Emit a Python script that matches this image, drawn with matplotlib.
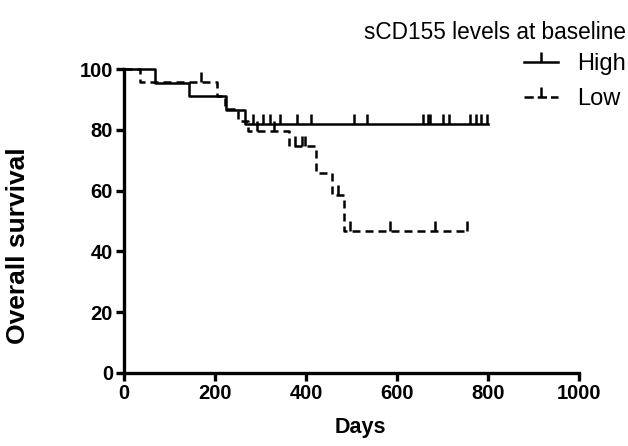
import numpy as np
import matplotlib.pyplot as plt
from matplotlib.lines import Line2D
from matplotlib.legend_handler import HandlerLine2D

plt.rcParams['font.family'] = ['Liberation Sans', 'DejaVu Sans']

# Kaplan-Meier steps (day of drop, survival after drop)
high_days = [0, 68, 142, 225, 265]
high_surv = [100, 95.5, 91.0, 86.4, 81.8]
high_end = 800
high_censor = [284, 306, 321, 343, 380, 411, 505, 534, 657, 668, 673,
               701, 714, 760, 774, 785, 798]

low_days = [0, 35, 205, 222, 250, 272, 362, 422, 457, 483]
low_surv = [100, 95.6, 91.3, 87.0, 83.0, 79.8, 74.7, 65.9, 58.6, 46.7]
low_end = 754
low_censor = [170, 292, 330, 376, 391, 398, 470, 497, 585, 684, 754]


def step_xy(days, surv, end):
    x = list(days) + [end]
    y = list(surv) + [surv[-1]]
    return x, y


def surv_at(days, surv, t):
    i = np.searchsorted(days, t, side='right') - 1
    return surv[i]


lw = 1.8
dash = (0, (3.2, 2.0))
tick_ms = 7
tick_mew = 1.8

fig = plt.figure(figsize=(6.28, 4.46), dpi=100)
ax = fig.add_axes([0.1975, 0.1637, 0.7245, 0.6813])

for days, surv, end, cens, ls, label in [
    (high_days, high_surv, high_end, high_censor, '-', 'High'),
    (low_days, low_surv, low_end, low_censor, dash, 'Low'),
]:
    x, y = step_xy(days, surv, end)
    ax.step(x, y, where='post', color='black', lw=lw, ls=ls,
            clip_on=False, label=label)
    cy = [surv_at(days, surv, c) for c in cens]
    ax.plot(cens, cy, ls='none', marker=2, ms=tick_ms, mew=tick_mew,
            color='black', clip_on=False)


class MidTick(HandlerLine2D):
    # legend entry: line with a censor tick in the middle
    def create_artists(self, legend, orig_handle, xdescent, ydescent,
                       width, height, fontsize, trans):
        y0 = height / 2 - ydescent
        line = Line2D([-xdescent, width - xdescent], [y0, y0],
                      color='black', lw=lw, ls=orig_handle.get_linestyle(),
                      transform=trans)
        tick = Line2D([(width - xdescent) / 2], [y0], ls='none', marker=2,
                      ms=tick_ms, mew=tick_mew, color='black',
                      transform=trans)
        return [line, tick]


handles = [Line2D([0, 1], [0, 0], color='black', lw=lw, ls='-'),
           Line2D([0, 1], [0, 0], color='black', lw=lw, ls=dash)]
leg = fig.legend(handles, ['High', 'Low'], loc='upper right',
                 bbox_to_anchor=(1.03, 1.0), frameon=False,
                 title='sCD155 levels at baseline', alignment='right',
                 fontsize=17, title_fontsize=16.3, handlelength=1.45,
                 handletextpad=0.8, labelspacing=0.55,
                 handler_map={Line2D: MidTick()})
leg._legend_box.sep = 6.5  # tighter gap between title and entries

ax.set_xlim(0, 1000)
ax.set_ylim(0, 100)
ax.set_xticks(np.arange(0, 1001, 200))
ax.set_yticks(np.arange(0, 101, 20))
for s in ['top', 'right']:
    ax.spines[s].set_visible(False)
for s in ['left', 'bottom']:
    ax.spines[s].set_linewidth(2.4)
ax.tick_params(width=2.4, length=6, labelsize=14.5, pad=2)
for lab in ax.get_xticklabels() + ax.get_yticklabels():
    lab.set_fontweight('bold')

ax.set_xlabel('Days', fontsize=15.5, fontweight='bold', va='center')
ax.xaxis.set_label_coords(0.519, -0.178)
ax.set_ylabel('Overall survival', fontsize=19, fontweight='bold',
              va='center')
ax.yaxis.set_label_coords(-0.233, 0.418)

fig.savefig('out.png', dpi=100)
